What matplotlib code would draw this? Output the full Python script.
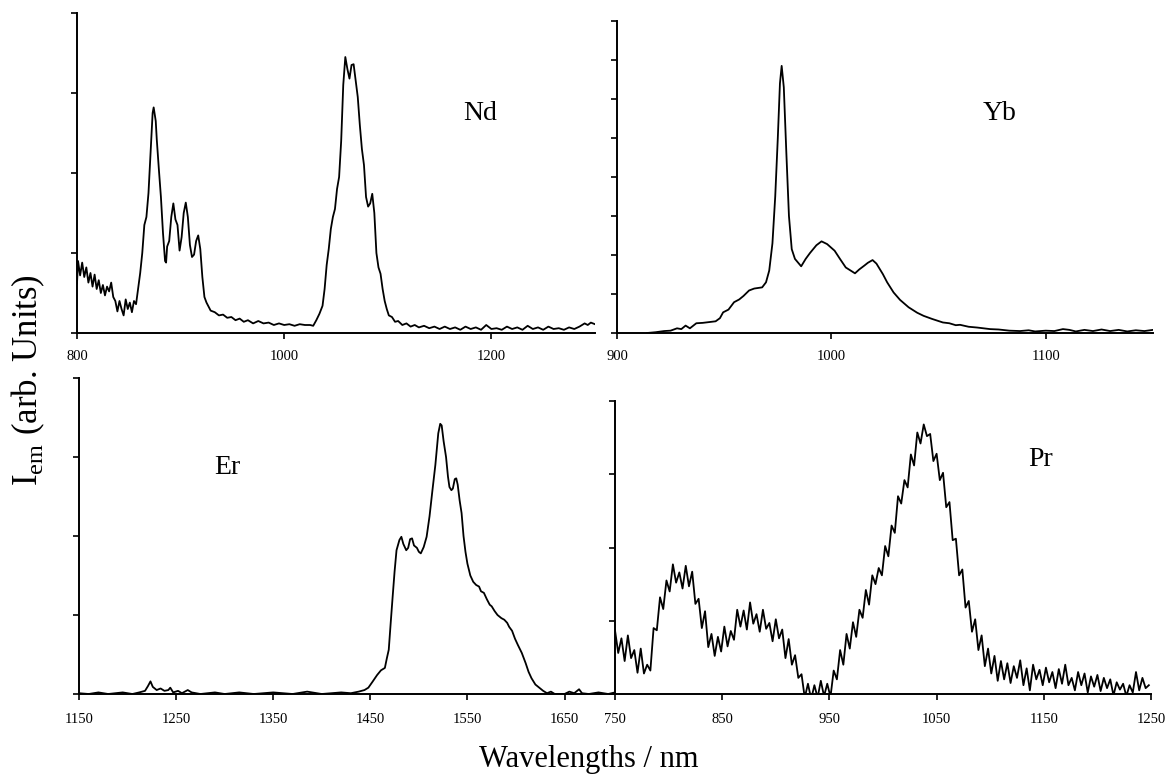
import numpy as np
import matplotlib
matplotlib.use("Agg")
import matplotlib.pyplot as plt

plt.rcParams['font.family'] = ['Liberation Serif', 'DejaVu Serif']
plt.rcParams['mathtext.fontset'] = 'custom'
plt.rcParams['mathtext.rm'] = 'Liberation Serif'

# ---------------- data ----------------
nd_wl = [800, 801, 803, 805, 807, 809, 811, 813, 815, 817, 819, 821, 823, 825, 827, 829, 831, 833, 835, 837,
         839, 841, 843, 845, 847, 849, 851, 853, 855, 857, 859, 861, 863, 865, 867, 869, 871, 873, 874, 876,
         877, 879, 881, 883, 885, 886, 887, 889, 891, 893, 895, 897, 899, 901, 903, 905, 907, 909, 911, 913,
         915, 917, 919, 921, 923, 925, 927, 929, 933, 937, 941, 945, 949, 953, 957, 961, 965, 970, 975, 980,
         985, 990, 995, 1000, 1005, 1010, 1015, 1020, 1025, 1028, 1031, 1034, 1037, 1039, 1041, 1043, 1045,
         1047, 1049, 1051, 1053, 1055, 1057, 1059, 1061, 1063, 1065, 1067, 1069, 1071, 1073, 1075, 1077, 1079,
         1081, 1083, 1085, 1087, 1089, 1091, 1093, 1095, 1097, 1099, 1101, 1104, 1107, 1110, 1114, 1118, 1122,
         1126, 1130, 1135, 1140, 1145, 1150, 1155, 1160, 1165, 1170, 1175, 1180, 1185, 1190, 1195, 1200, 1205,
         1210, 1215, 1220, 1225, 1230, 1235, 1240, 1245, 1250, 1255, 1260, 1265, 1270, 1275, 1280, 1285, 1290,
         1293, 1296, 1300]
nd_int = [0.62, 0.90, 0.72, 0.88, 0.70, 0.82, 0.63, 0.75, 0.58, 0.73, 0.55, 0.66, 0.50, 0.60, 0.47, 0.58, 0.52,
          0.63, 0.45, 0.40, 0.27, 0.40, 0.30, 0.22, 0.42, 0.30, 0.38, 0.26, 0.40, 0.36, 0.55, 0.75, 1.00, 1.35,
          1.45, 1.75, 2.25, 2.75, 2.82, 2.65, 2.42, 2.05, 1.70, 1.25, 0.90, 0.88, 1.08, 1.15, 1.45, 1.62, 1.42,
          1.35, 1.03, 1.20, 1.50, 1.63, 1.45, 1.10, 0.95, 0.98, 1.15, 1.22, 1.05, 0.70, 0.45, 0.38, 0.33, 0.28,
          0.26, 0.22, 0.23, 0.19, 0.20, 0.16, 0.18, 0.14, 0.16, 0.12, 0.15, 0.12, 0.13, 0.10, 0.12, 0.10, 0.11,
          0.09, 0.11, 0.10, 0.10, 0.09, 0.16, 0.24, 0.34, 0.55, 0.85, 1.05, 1.30, 1.45, 1.55, 1.80, 1.95, 2.40,
          3.10, 3.45, 3.30, 3.18, 3.35, 3.36, 3.15, 2.95, 2.60, 2.30, 2.10, 1.70, 1.58, 1.62, 1.74, 1.50, 1.00,
          0.82, 0.74, 0.55, 0.40, 0.30, 0.22, 0.20, 0.14, 0.15, 0.10, 0.12, 0.08, 0.10, 0.07, 0.09, 0.06, 0.08,
          0.05, 0.08, 0.05, 0.07, 0.04, 0.08, 0.05, 0.07, 0.04, 0.10, 0.05, 0.06, 0.04, 0.08, 0.05, 0.07, 0.04,
          0.09, 0.05, 0.07, 0.04, 0.08, 0.05, 0.06, 0.04, 0.07, 0.05, 0.08, 0.12, 0.10, 0.13, 0.11]

yb_wl = [914, 918, 922, 925, 928, 930, 932, 934, 937, 940, 943, 946, 948, 949.5, 952, 954.6, 957, 959, 961.6,
         964, 967.7, 969.5, 971, 972.5, 973.8, 975, 976, 976.8, 977.8, 979, 980.2, 981.5, 983, 985.9, 988, 990,
         993, 995.4, 998, 1001.5, 1004, 1006.7, 1009, 1011, 1013, 1015.4, 1017, 1019.2, 1021, 1024, 1026, 1029,
         1032, 1036, 1040, 1043, 1047, 1052, 1055, 1058, 1060, 1064, 1068, 1074, 1078, 1083, 1088, 1092, 1095,
         1100, 1104, 1108, 1111, 1114, 1118, 1122, 1126, 1130, 1134, 1138, 1142, 1146, 1150]
yb_int = [0.00, 0.02, 0.05, 0.06, 0.12, 0.10, 0.19, 0.12, 0.25, 0.26, 0.28, 0.30, 0.38, 0.53, 0.60, 0.79, 0.86,
          0.95, 1.09, 1.14, 1.17, 1.30, 1.60, 2.30, 3.50, 5.00, 6.40, 6.85, 6.30, 4.60, 3.00, 2.15, 1.90, 1.71,
          1.90, 2.05, 2.25, 2.35, 2.28, 2.11, 1.90, 1.68, 1.60, 1.53, 1.63, 1.73, 1.80, 1.87, 1.78, 1.51, 1.30,
          1.04, 0.85, 0.66, 0.52, 0.44, 0.36, 0.27, 0.25, 0.20, 0.21, 0.16, 0.14, 0.10, 0.09, 0.06, 0.05, 0.07,
          0.04, 0.06, 0.05, 0.10, 0.08, 0.04, 0.08, 0.05, 0.09, 0.05, 0.08, 0.04, 0.07, 0.05, 0.08]

er_wl = [1150, 1160, 1170, 1180, 1195, 1205, 1212, 1218, 1221, 1223.6, 1226, 1230, 1234, 1238, 1242, 1244, 1247,
         1252, 1256, 1262, 1266, 1275, 1290, 1300, 1315, 1330, 1350, 1370, 1385, 1400, 1420, 1430, 1438, 1444,
         1448, 1452, 1457, 1461, 1465, 1467, 1469, 1471, 1473, 1475, 1477, 1480, 1482, 1484, 1487, 1489, 1491,
         1493, 1495, 1498, 1500, 1502, 1505, 1508, 1511, 1514, 1517, 1520, 1522, 1523.5, 1525.5, 1528, 1530,
         1531.5, 1533.5, 1535, 1537, 1538.5, 1540, 1542, 1544, 1546, 1548, 1550, 1553, 1556, 1559, 1562, 1564,
         1567, 1570, 1573, 1575, 1578, 1581, 1585, 1588, 1591, 1593, 1596, 1599, 1602, 1606, 1610, 1613, 1616,
         1620, 1624, 1628, 1632, 1636, 1640, 1650, 1655, 1660, 1665, 1668, 1675, 1685, 1695, 1702]
er_int = [0.01, 0.00, 0.02, 0.00, 0.02, 0.00, 0.02, 0.04, 0.10, 0.16, 0.09, 0.05, 0.07, 0.04, 0.05, 0.08, 0.02,
          0.04, 0.01, 0.05, 0.02, 0.00, 0.02, 0.00, 0.02, 0.00, 0.02, 0.00, 0.03, 0.00, 0.02, 0.01, 0.03, 0.05,
          0.08, 0.15, 0.24, 0.30, 0.33, 0.45, 0.56, 0.90, 1.23, 1.55, 1.82, 1.95, 1.99, 1.90, 1.82, 1.85, 1.96,
          1.97, 1.88, 1.85, 1.80, 1.78, 1.86, 1.99, 2.25, 2.58, 2.90, 3.30, 3.42, 3.40, 3.20, 3.00, 2.75, 2.62,
          2.58, 2.60, 2.72, 2.73, 2.65, 2.45, 2.29, 2.00, 1.80, 1.65, 1.50, 1.42, 1.38, 1.36, 1.30, 1.28, 1.20,
          1.13, 1.11, 1.05, 1.00, 0.96, 0.94, 0.90, 0.85, 0.80, 0.70, 0.62, 0.52, 0.39, 0.28, 0.20, 0.12, 0.08,
          0.04, 0.01, 0.03, 0.00, 0.00, 0.03, 0.01, 0.06, 0.01, 0.00, 0.02, 0.00, 0.02]

pr_start, pr_step = 750, 3
pr_int = [0.87, 0.56, 0.76, 0.45, 0.80, 0.49, 0.60, 0.29, 0.62, 0.28, 0.40, 0.32, 0.90, 0.87, 1.32, 1.16, 1.55,
          1.40, 1.77, 1.52, 1.66, 1.44, 1.75, 1.47, 1.67, 1.23, 1.30, 0.90, 1.13, 0.64, 0.82, 0.52, 0.78, 0.58,
          0.92, 0.65, 0.86, 0.74, 1.15, 0.92, 1.14, 0.88, 1.25, 0.96, 1.09, 0.85, 1.15, 0.89, 0.97, 0.72, 1.02,
          0.76, 0.88, 0.49, 0.75, 0.40, 0.53, 0.22, 0.27, -0.05, 0.14, -0.07, 0.12, -0.05, 0.18, -0.03, 0.14,
          -0.04, 0.32, 0.20, 0.60, 0.40, 0.82, 0.62, 0.98, 0.78, 1.15, 1.04, 1.42, 1.22, 1.62, 1.50, 1.72, 1.62,
          2.02, 1.88, 2.30, 2.20, 2.70, 2.60, 2.92, 2.82, 3.27, 3.12, 3.57, 3.42, 3.68, 3.52, 3.55, 3.18, 3.28,
          2.92, 3.02, 2.55, 2.62, 2.10, 2.12, 1.62, 1.70, 1.18, 1.27, 0.85, 1.02, 0.60, 0.80, 0.38, 0.62, 0.28,
          0.52, 0.18, 0.45, 0.20, 0.42, 0.15, 0.38, 0.22, 0.46, 0.12, 0.35, 0.05, 0.40, 0.20, 0.33, 0.12, 0.36,
          0.16, 0.30, 0.08, 0.34, 0.14, 0.40, 0.12, 0.22, 0.05, 0.30, 0.12, 0.28, 0.02, 0.24, 0.10, 0.26, 0.04,
          0.22, 0.08, 0.20, -0.02, 0.16, 0.06, 0.14, -0.03, 0.12, 0.02, 0.30, 0.05, 0.22, 0.08, 0.12]
pr_wl = pr_start + pr_step * np.arange(len(pr_int))

panel_names = ["Nd", "Yb", "Er", "Pr"]
xlims = [(800, 1300), (900, 1150), (1150, 1702), (750, 1250)]
xticks = [[800, 1000, 1200], [900, 1000, 1100], [1150, 1250, 1350, 1450, 1550, 1650],
          [750, 850, 950, 1050, 1150, 1250]]
ylims = [4, 8, 4, 4]
series = [(nd_wl, nd_int), (yb_wl, yb_int), (er_wl, er_int), (pr_wl, pr_int)]

# ---------------- layout (pixels) ----------------
W, H = 1170, 775
boxes = [(77, 595, 13, 333), (617, 1153, 21, 333), (79, 615, 378, 694), (615, 1151, 401, 694)]
label_pos = [(480, 113), (1000, 113), (227, 468), (1041, 460)]
pads = [8, 8, 10, 10]

fig = plt.figure(figsize=(W / 100, H / 100), dpi=100)

for i, (l, r, t, b) in enumerate(boxes):
    ax = fig.add_axes([l / W, 1 - b / H, (r - l) / W, (b - t) / H])
    x, y = series[i]
    ax.plot(x, y, color='black', lw=1.3)
    ax.set_xlim(*xlims[i])
    ax.set_ylim(0, ylims[i])
    ax.set_xticks(xticks[i])
    ax.set_yticks(np.arange(0, ylims[i] + 1))
    ax.set_yticklabels([])
    for s in ['top', 'right']:
        ax.spines[s].set_visible(False)
    for s in ['left', 'bottom']:
        ax.spines[s].set_linewidth(1.4)
    ax.tick_params(axis='x', direction='out', length=4, width=1.2, labelsize=10.5, pad=pads[i])
    ax.tick_params(axis='y', direction='out', length=4, width=1.2)
    ax.patch.set_visible(False)
    lx, ly = label_pos[i]
    fig.text(lx / W, 1 - ly / H, panel_names[i], fontsize=20, ha='center', va='center')

fig.text(28 / W, 1 - 380 / H, r'I$_{\rm em}$ (arb. Units)', fontsize=25, rotation=90,
         ha='center', va='center')
fig.text(589 / W, 1 - 767 / H, 'Wavelengths / nm', fontsize=22, ha='center', va='baseline')

fig.savefig('out.png', dpi=100)
